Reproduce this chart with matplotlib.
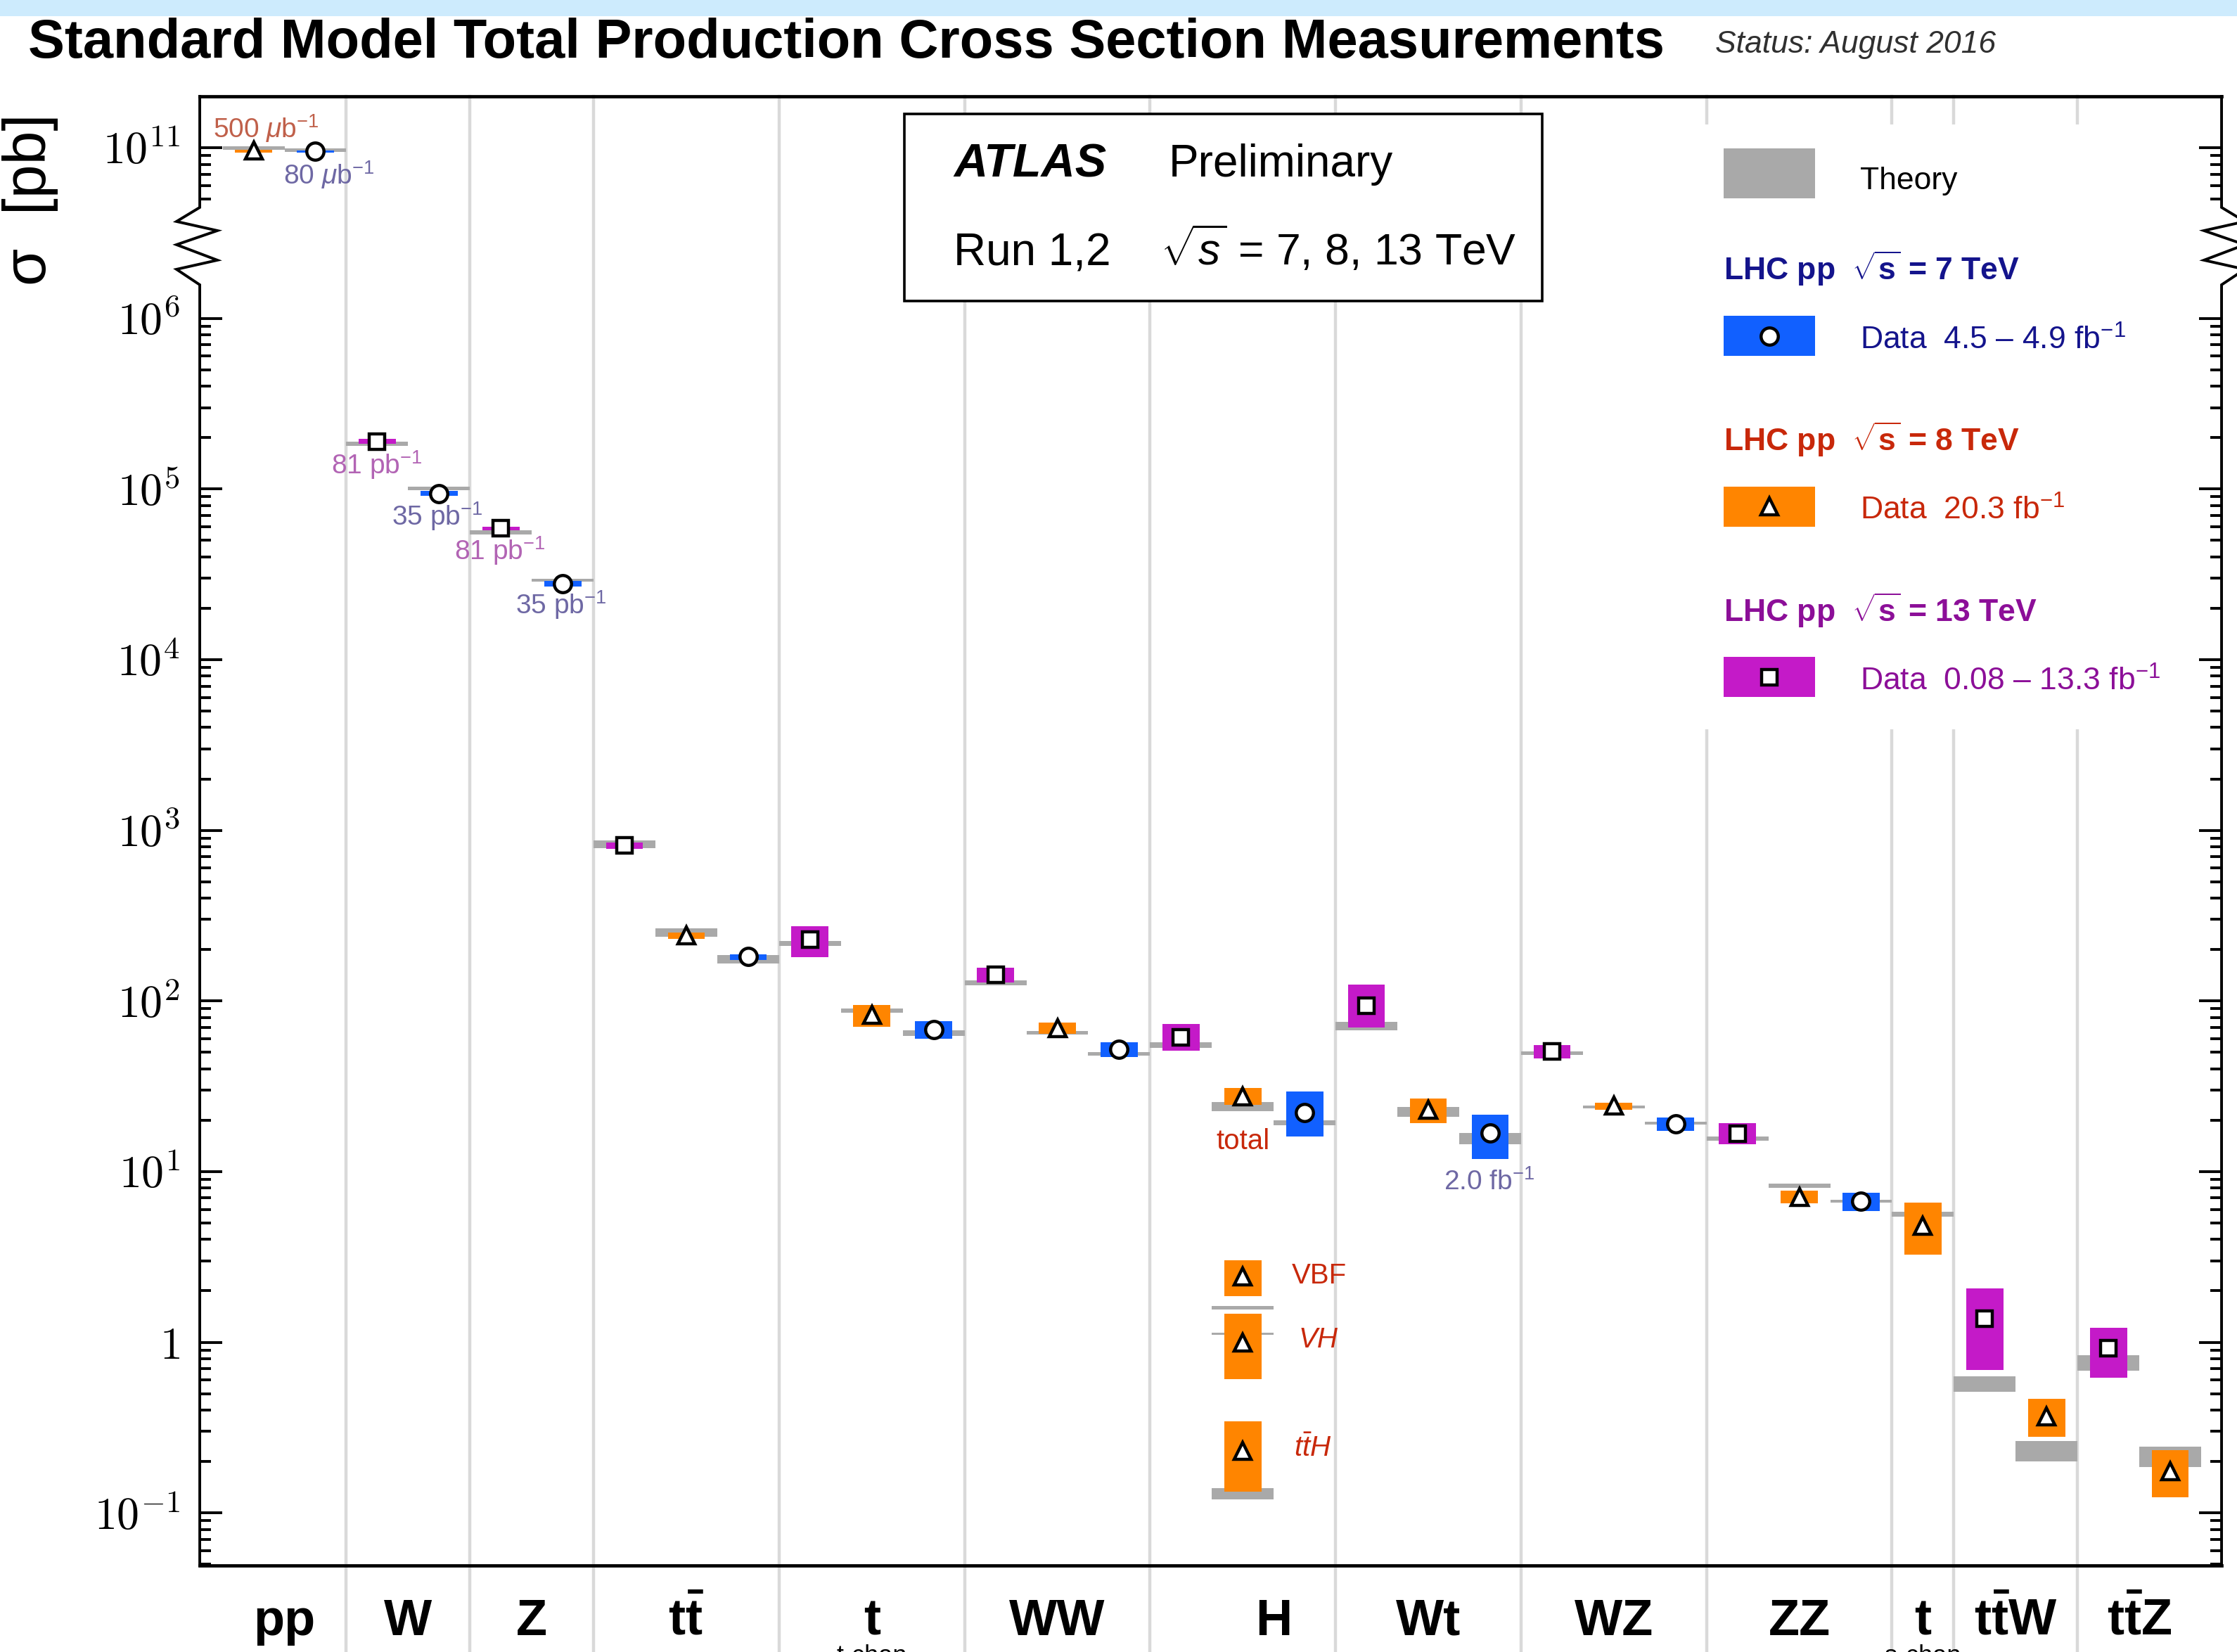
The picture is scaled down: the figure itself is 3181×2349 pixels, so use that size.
import numpy as np
import matplotlib
matplotlib.use('Agg')
import matplotlib.pyplot as plt
import matplotlib.transforms as mtransforms
from matplotlib.patches import Rectangle
from matplotlib.ticker import FixedLocator, FixedFormatter, NullFormatter

plt.rcParams['font.family'] = ['Liberation Sans', 'DejaVu Sans']
plt.rcParams['mathtext.fontset'] = 'cm'
plt.rcParams['mathtext.rm'] = 'Liberation Sans'
plt.rcParams['mathtext.it'] = 'Liberation Sans:italic'
plt.rcParams['mathtext.bf'] = 'Liberation Sans:bold'

# ---- data: cross sections in pb, left to right ----
procs = ['pp', 'pp', 'W', 'W', 'Z', 'Z', 'tt', 'tt', 'tt', 't', 't', 't',
         'WW', 'WW', 'WW', 'H', 'H', 'H', 'Wt', 'Wt', 'Wt', 'WZ', 'WZ', 'WZ',
         'ZZ', 'ZZ', 'ZZ', 'ts', 'ttW', 'ttW', 'ttZ', 'ttZ']
energy = [8, 7, 13, 7, 13, 7, 13, 8, 7, 13, 8, 7,
          13, 8, 7, 13, 8, 7, 13, 8, 7, 13, 8, 7,
          13, 8, 7, 8, 13, 8, 13, 8]
sigma = [9.6e10, 9.5e10, 1.90e5, 9.4e4, 5.87e4, 2.79e4, 818, 242, 182, 229, 83, 68,
         142, 69, 52, 61, 27.7, 22.1, 94, 23.0, 16.8, 50.5, 24.3, 19.0,
         16.7, 7.1, 6.7, 4.8, 1.38, 0.369, 0.92, 0.176]
sigma_lo = [9.4e10, 9.35e10, 1.84e5, 9.1e4, 5.72e4, 2.68e4, 781, 232, 174, 180, 70.6, 60,
            128, 64, 47, 51, 24.5, 16.1, 70, 19.2, 11.9, 46, 23.1, 17.3,
            14.4, 6.5, 5.85, 3.27, 0.69, 0.28, 0.62, 0.123]
sigma_hi = [9.75e10, 9.66e10, 1.96e5, 9.75e4, 6.03e4, 2.88e4, 851, 252, 188, 275, 94.6, 76,
            156, 75, 57, 73, 31, 29.6, 125, 26.8, 21.6, 55, 25.4, 20.8,
            19.2, 7.7, 7.5, 6.6, 2.06, 0.465, 1.22, 0.234]
theory_lo = [9.75e10, 9.45e10, 1.79e5, 9.8e4, 5.43e4, 2.86e4, 786, 238, 166, 210, 85.5, 62.5,
             124, 63.5, 47.8, 53, 22.6, 18.7, 67.4, 20.9, 14.5, 48.3, 23.4, 18.9,
             15.1, 8.0, 6.55, 5.45, 0.51, 0.20, 0.68, 0.185]
theory_hi = [1.02e11, 9.95e10, 1.89e5, 1.03e5, 5.74e4, 2.99e4, 872, 266, 186, 224, 90, 67,
             132, 66.5, 50.2, 57, 25.6, 19.9, 75.4, 23.9, 16.8, 50.7, 24.3, 19.6,
             16.0, 8.5, 6.85, 5.8, 0.63, 0.263, 0.84, 0.245]

# Higgs production modes at 8 TeV
higgs_modes = ['VBF', 'VH', 'ttH']
higgs_sigma = [2.43, 1.0, 0.23]
higgs_lo = [1.87, 0.61, 0.133]
higgs_hi = [3.01, 1.47, 0.344]
higgs_th_lo = [1.56, 1.10, 0.12]
higgs_th_hi = [1.63, 1.14, 0.14]

cat_keys = ['pp', 'W', 'Z', 'tt', 't', 'WW', 'H', 'Wt', 'WZ', 'ZZ', 'ts', 'ttW', 'ttZ']
cat_labels = ['pp', 'W', 'Z', r'$\mathbf{t\bar{t}}$', 't', 'WW', 'H', 'Wt', 'WZ', 'ZZ', 't',
              r'$\mathbf{t\bar{t}W}$', r'$\mathbf{t\bar{t}Z}$']
cat_sub = {'t': 't-chan', 'ts': 's-chan'}
label_shift = {'H': 0.5}

lumi_text = [r'500 $\mu$b$^{-1}$', r'80 $\mu$b$^{-1}$', r'81 pb$^{-1}$', r'35 pb$^{-1}$',
             r'81 pb$^{-1}$', r'35 pb$^{-1}$', r'2.0 fb$^{-1}$']
lumi_x = [0.70, 1.72, 2.49, 3.47, 4.48, 5.47, 20.49]
lumi_y = [1.30e11, 6.9e10, 1.38e5, 6.9e4, 4.35e4, 2.1e4, 8.7]
lumi_energy = [8, 7, 13, 7, 13, 7, 7]

major_ticks = [0.1, 1, 10, 100, 1e3, 1e4, 1e5, 1e6, 1e11]
major_labels = [r'$10^{-1}$', r'$1$', r'$10^{1}$', r'$10^{2}$', r'$10^{3}$', r'$10^{4}$',
                r'$10^{5}$', r'$10^{6}$', r'$10^{11}$']

col_data = {7: '#1160ff', 8: '#ff8500', 13: '#c41ac8'}
col_text = {7: '#14148c', 8: '#c8280a', 13: '#8c0f98'}
col_lumi = {7: '#6e68a4', 8: '#c0604a', 13: '#b264b4'}
markers = {7: 'o', 8: '^', 13: 's'}
msize = {7: 8.8, 8: 8.6, 13: 8.0}
TH_GREY = '#a9a9a9'
SEP_GREY = '#d9d9d9'

# log axis with the 10^6.2 - 10^10.65 range squeezed (axis break)
B0, B1, G1 = 6.2, 10.65, 6.65


def fwd(s):
    l = np.log10(np.clip(s, 1e-300, None))
    mid = B0 + (l - B0) * (G1 - B0) / (B1 - B0)
    return np.where(l <= B0, l, np.where(l >= B1, l - (B1 - G1), mid))


def inv(y):
    y = np.asarray(y, dtype=float)
    mid = B0 + (y - B0) * (B1 - B0) / (G1 - B0)
    return 10 ** np.where(y <= B0, y, np.where(y >= G1, y + (B1 - G1), mid))


fig = plt.figure(figsize=(15.905, 11.745), dpi=200)
fig.add_artist(Rectangle((0, 1 - 23 / 2349), 1, 23 / 2349, transform=fig.transFigure,
                         facecolor='#cdebfd', edgecolor='none'))
ax = fig.add_axes([0.0893, 0.0524, 0.9038, 0.8893])
ax.set_yscale('function', functions=(fwd, inv))

x = np.arange(len(procs)) + 0.5
ax.set_xlim(-0.37, len(procs) + 0.33)
ax.set_ylim(0.0492, 2.0e11)

s = np.array(sigma)
lo = np.array(sigma_lo)
hi = np.array(sigma_hi)
tlo = np.array(theory_lo)
thi = np.array(theory_hi)

# theory bands
ax.bar(x, thi - tlo, bottom=tlo, width=1.0, color=TH_GREY, linewidth=0, zorder=2)

# data boxes and markers
for e in (7, 8, 13):
    idx = np.array([i for i, en in enumerate(energy) if en == e])
    ax.bar(x[idx], hi[idx] - lo[idx], bottom=lo[idx], width=0.6, color=col_data[e],
           linewidth=0, zorder=3)
    ax.plot(x[idx], s[idx], ls='none', marker=markers[e], ms=msize[e], mfc='white',
            mec='black', mew=1.6, zorder=4)

# Higgs modes
h8 = [i for i in range(len(procs)) if procs[i] == 'H' and energy[i] == 8][0]
hx = np.full(len(higgs_modes), x[h8])
hth_lo = np.array(higgs_th_lo)
hth_hi = np.array(higgs_th_hi)
ax.bar(hx, hth_hi - hth_lo, bottom=hth_lo, width=1.0, color=TH_GREY, linewidth=0, zorder=2)
ax.bar(hx, np.array(higgs_hi) - np.array(higgs_lo), bottom=higgs_lo, width=0.6,
       color=col_data[8], linewidth=0, zorder=3)
ax.plot(hx, higgs_sigma, ls='none', marker='^', ms=msize[8], mfc='white', mec='black',
        mew=1.6, zorder=4)

red = col_text[8]
ax.text(x[h8], 15.0, 'total', color=red, fontsize=14.5, ha='center', va='center', zorder=5)
ax.text(x[h8] + 0.79, 2.45, 'VBF', color=red, fontsize=14.5, ha='left', va='center', zorder=5)
ax.text(x[h8] + 0.9, 1.03, 'VH', color=red, fontsize=14.5, fontstyle='italic', ha='left',
        va='center', zorder=5)
ax.text(x[h8] + 0.83, 0.239, r'$t\bar{t}H$', color=red, fontsize=14.5, ha='left', va='center',
        math_fontfamily='custom', zorder=5)

# luminosity labels
for t, lx, ly, e in zip(lumi_text, lumi_x, lumi_y, lumi_energy):
    ax.text(lx, ly, t, color=col_lumi[e], fontsize=14, ha='center', va='center',
            math_fontfamily='custom', zorder=5)

# separators between processes, running to the bottom of the figure
trans_xa = mtransforms.blended_transform_factory(ax.transData, ax.transAxes)
bounds = [i for i in range(1, len(procs)) if procs[i] != procs[i - 1]]
for b in bounds:
    ax.plot([b, b], [-0.08, 1.0], transform=trans_xa, color=SEP_GREY, lw=1.6,
            clip_on=False, zorder=1)

# process labels
for key, lab in zip(cat_keys, cat_labels):
    ii = [i for i, p in enumerate(procs) if p == key]
    cx = 0.5 * (min(ii) + max(ii) + 1) + label_shift.get(key, 0)
    ax.text(cx, -0.0474, lab, transform=trans_xa, ha='center', va='baseline', fontsize=26,
            fontweight='bold', math_fontfamily='custom', clip_on=False)
    if key in cat_sub:
        ax.text(cx, -0.0535, cat_sub[key], transform=trans_xa, ha='center', va='top',
                fontsize=13, clip_on=False)

# y axis ticks
ax.yaxis.set_major_locator(FixedLocator(major_ticks))
ax.yaxis.set_major_formatter(FixedFormatter(major_labels))
minor = [k * 10.0 ** d for d in range(-2, 6) for k in range(2, 10)]
minor = [m for m in minor if m > 0.049] + [k * 1e10 for k in range(5, 10)]
ax.yaxis.set_minor_locator(FixedLocator(minor))
ax.yaxis.set_minor_formatter(NullFormatter())
ax.tick_params(axis='y', which='both', direction='in', left=True, right=True, width=1.4,
               labelsize=23, pad=10)
ax.tick_params(axis='y', which='major', length=11.5)
ax.tick_params(axis='y', which='minor', length=5.8)
ax.set_xticks([])

# spines: left/right drawn by hand with the zigzag break
ax.spines['left'].set_visible(False)
ax.spines['right'].set_visible(False)
ax.spines['top'].set_linewidth(1.7)
ax.spines['bottom'].set_linewidth(1.7)
zz_x = np.array([0, -0.0115, 0.0087, -0.0115, 0.0087, -0.0115, 0])
zz_y = np.array([0.92437, 0.9148, 0.90857, 0.899, 0.88847, 0.88224, 0.87171])
for side, sgn in ((0.0, 1), (1.0, -1)):
    px = np.concatenate([[side], side + sgn * zz_x[::-1], [side]])
    py = np.concatenate([[0.0], zz_y[::-1], [1.0]])
    ax.plot(px, py, transform=ax.transAxes, color='black', lw=1.4, clip_on=False,
            zorder=6, solid_joinstyle='miter')

# ATLAS box
ax.add_patch(Rectangle((0.3485, 0.8607), 0.3155, 0.1273, transform=ax.transAxes,
                       facecolor='white', edgecolor='black', lw=1.3, zorder=5))
ax.text(0.3729, 0.9454, 'ATLAS', transform=ax.transAxes, fontsize=24, fontweight='bold',
        fontstyle='italic', va='baseline', zorder=6)
ax.text(0.4793, 0.9454, 'Preliminary', transform=ax.transAxes, fontsize=23, va='baseline',
        zorder=6)
ax.text(0.3729, 0.885, 'Run 1,2', transform=ax.transAxes, fontsize=23, va='baseline', zorder=6)
ax.text(0.4751, 0.885, r'$\sqrt{s}$ = 7, 8, 13 TeV', transform=ax.transAxes, fontsize=22.5,
        va='baseline', math_fontfamily='custom', zorder=6)

# legend
ax.add_patch(Rectangle((0.742, 0.569), 0.243, 0.412, transform=ax.transAxes,
                       facecolor='white', edgecolor='none', zorder=1.5))
lx0, lw_ = 0.7537, 0.0452
tx = 0.8213
ax.add_patch(Rectangle((lx0, 0.9306), lw_, 0.034, transform=ax.transAxes,
                       facecolor=TH_GREY, edgecolor='none', zorder=3))
ax.text(tx, 0.9425, 'Theory', transform=ax.transAxes, fontsize=16, va='center', zorder=6)
leg_rows = [(7, 0.8830, 0.8369, r'Data  4.5 – 4.9 fb$^{-1}$'),
            (8, 0.7665, 0.7208, r'Data  20.3 fb$^{-1}$'),
            (13, 0.6500, 0.6048, r'Data  0.08 – 13.3 fb$^{-1}$')]
for e, yh, yd, txt in leg_rows:
    ax.text(lx0, yh, r'LHC pp  $\sqrt{\mathbf{s}}$ = %d TeV' % e, transform=ax.transAxes,
            fontsize=16, fontweight='bold', color=col_text[e], va='center',
            math_fontfamily='custom', zorder=6)
    ax.add_patch(Rectangle((lx0, yd - 0.01365), lw_, 0.0273, transform=ax.transAxes,
                           facecolor=col_data[e], edgecolor='none', zorder=3))
    ax.plot([lx0 + lw_ / 2], [yd], transform=ax.transAxes, marker=markers[e], ms=msize[e],
            mfc='white', mec='black', mew=1.6, zorder=4)
    ax.text(tx, yd - 0.003, txt, transform=ax.transAxes, fontsize=16, color=col_text[e],
            va='center', math_fontfamily='custom', zorder=6)

# titles
fig.text(0.01257, 0.9651, 'Standard Model Total Production Cross Section Measurements',
         fontsize=28, fontweight='bold', va='baseline')
fig.text(0.7666, 0.968, 'Status: August 2016', fontsize=16, fontstyle='italic',
         color='#303030', va='baseline')
fig.text(0.0135, 0.879, 'σ  [pb]', rotation=90, fontsize=31, ha='center', va='center')

fig.savefig('out.png', dpi=200, facecolor='white')
